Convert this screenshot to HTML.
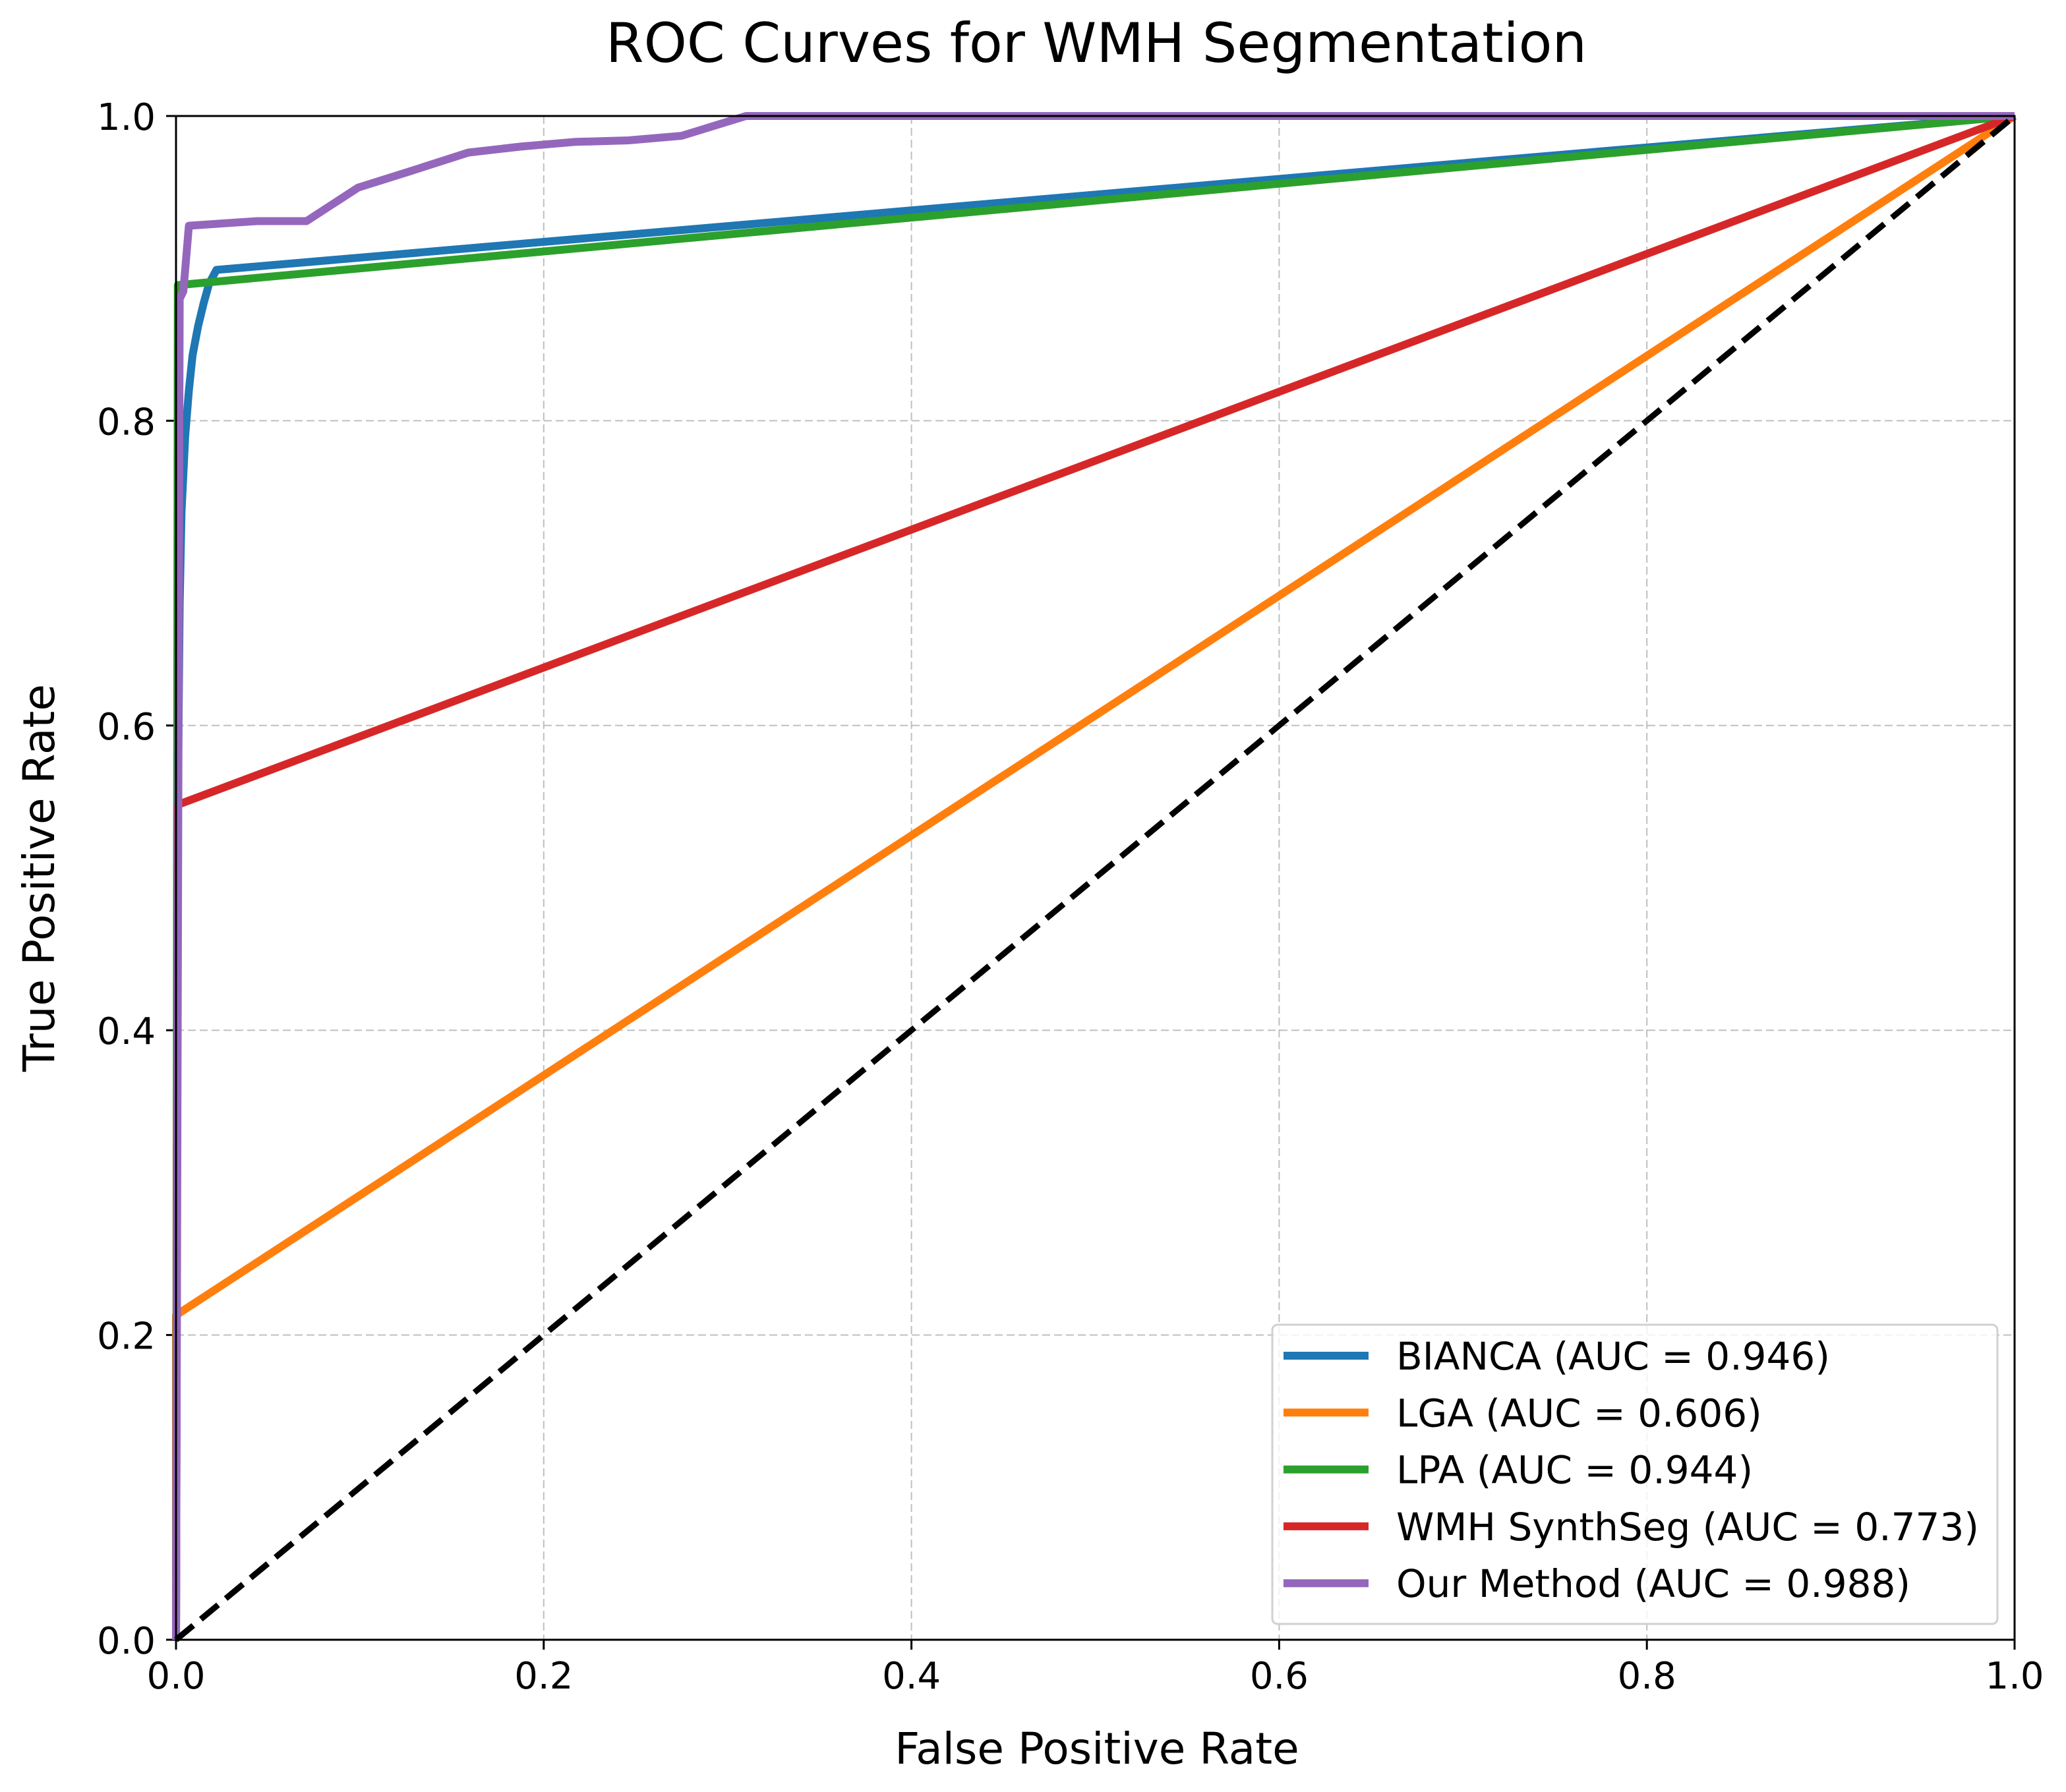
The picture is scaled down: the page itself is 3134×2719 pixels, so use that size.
<!DOCTYPE html>
<html><head><meta charset="utf-8"><style>
html,body{margin:0;padding:0;background:#fff;}
svg{display:block;font-family:"DejaVu Sans","Liberation Sans",sans-serif;}
</style></head><body>
<svg id="chart" width="3134" height="2719" viewBox="0 0 3134 2719" xmlns="http://www.w3.org/2000/svg">
<rect width="3134" height="2719" fill="#fff"/>
<text x="1663" y="94" font-size="83" text-anchor="middle">ROC Curves for WMH Segmentation</text>
<g id="grid"></g>
<g id="ticks"></g>
<g id="series"></g>
<rect x="267" y="176" width="2789" height="2312" fill="none" stroke="#000" stroke-width="3"/>
<text x="1664" y="2676" font-size="66" text-anchor="middle">False Positive Rate</text>
<text transform="translate(82,1332) rotate(-90)" font-size="66" text-anchor="middle">True Positive Rate</text>
<g id="legend"></g>
</svg>
<script>
const ticks = [0, 0.2, 0.4, 0.6, 0.8, 1.0];
const tickLabels = ["0.0", "0.2", "0.4", "0.6", "0.8", "1.0"];
const seriesNames = ["BIANCA (AUC = 0.946)", "LGA (AUC = 0.606)", "LPA (AUC = 0.944)", "WMH SynthSeg (AUC = 0.773)", "Our Method (AUC = 0.988)"];
const seriesColors = ["#1f77b4", "#ff7f0e", "#2ca02c", "#d62728", "#9467bd"];
const biancaFpr = [0, 0.001, 0.002, 0.003, 0.005, 0.007, 0.009, 0.012, 0.015, 0.018, 0.022, 1];
const biancaTpr = [0, 0.55, 0.68, 0.74, 0.79, 0.82, 0.843, 0.862, 0.877, 0.89, 0.899, 1];
const lgaFpr = [0, 0, 1];
const lgaTpr = [0, 0.213, 1];
const lpaFpr = [0, 0.001, 1];
const lpaTpr = [0, 0.889, 1];
const synthFpr = [0, 0.001, 1];
const synthTpr = [0, 0.548, 1];
const oursFpr = [0, 0.002, 0.004, 0.007, 0.044, 0.071, 0.099, 0.128, 0.159, 0.188, 0.217, 0.246, 0.275, 0.31, 1];
const oursTpr = [0, 0.88, 0.885, 0.928, 0.931, 0.931, 0.953, 0.964, 0.976, 0.980, 0.983, 0.984, 0.987, 1.0, 1];
const chanceFpr = [0, 1];
const chanceTpr = [0, 1];

const X0 = 267, X1 = 3056, Y0 = 2488, Y1 = 176;
const sx = v => X0 + v * (X1 - X0);
const sy = v => Y0 - v * (Y0 - Y1);
const NS = "http://www.w3.org/2000/svg";
function mk(tag, parent, attrs) {
  const e = document.createElementNS(NS, tag);
  for (const k in attrs) e.setAttribute(k, attrs[k]);
  parent.appendChild(e);
  return e;
}
const grid = document.getElementById("grid");
const tk = document.getElementById("ticks");
ticks.forEach((t, i) => {
  if (t > 0 && t < 1) {
    const gv = mk("line", grid, {x1: sx(t), x2: sx(t), y1: Y1, y2: Y0, stroke: "#b0b0b0", "stroke-width": 2, "stroke-dasharray": "12,6", opacity: 0.8});
    
    
    const gh = mk("line", grid, {x1: X0, x2: X1, y1: sy(t), y2: sy(t), stroke: "#b0b0b0", "stroke-width": 2, "stroke-dasharray": "12,6", opacity: 0.8});
    
    
  }
  const xt = mk("line", tk, {x1: sx(t), x2: sx(t), y1: Y0, y2: Y0 + 15, stroke: "#000", "stroke-width": 3});
  
  
  const xl = mk("text", tk, {x: sx(t), y: 2562, "font-size": 56, "text-anchor": "middle"});
  xl.textContent = tickLabels[i];
  
  
  const yt = mk("line", tk, {x1: X0 - 15, x2: X0, y1: sy(t), y2: sy(t), stroke: "#000", "stroke-width": 3});
  
  
  const yl = mk("text", tk, {x: 236, y: sy(t) + 21, "font-size": 56, "text-anchor": "end"});
  yl.textContent = tickLabels[i];
  
  
});
const ser = document.getElementById("series");
const allF = [biancaFpr, lgaFpr, lpaFpr, synthFpr, oursFpr];
const allT = [biancaTpr, lgaTpr, lpaTpr, synthTpr, oursTpr];
const ids = ["bianca-curve", "lga-curve", "lpa-curve", "wmh-synthseg-curve", "our-method-curve"];
allF.forEach((f, i) => {
  const pts = f.map((v, j) => sx(v) + "," + sy(allT[i][j])).join(" ");
  const p = mk("polyline", ser, {points: pts, fill: "none", stroke: seriesColors[i], "stroke-width": 12, "stroke-linejoin": "round"});
  
  
});
const ch = mk("polyline", ser, {points: chanceFpr.map((v, j) => sx(v) + "," + sy(chanceTpr[j])).join(" "), fill: "none", stroke: "#000", "stroke-width": 9, "stroke-dasharray": "34,15"});



const lg = document.getElementById("legend");
const box = mk("rect", lg, {x: 1930, y: 2010, width: 1100, height: 454, rx: 8, fill: "#fff", "fill-opacity": 0.8, stroke: "#d0d0d0", "stroke-width": 3});


seriesNames.forEach((n, i) => {
  const y = 2057 + i * 86.3;
  const l = mk("line", lg, {x1: 1947, x2: 2076, y1: y, y2: y, stroke: seriesColors[i], "stroke-width": 12});
  
  
  const t = mk("text", lg, {x: 2118, y: y + 21, "font-size": 58});
  t.textContent = n;
  
  
});
</script>
</body></html>
